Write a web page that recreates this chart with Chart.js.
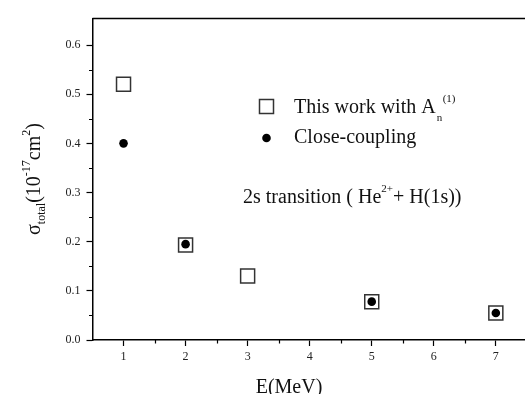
<!DOCTYPE html>
<html><head><meta charset="utf-8">
<script src="https://cdn.jsdelivr.net/npm/chart.js@4/dist/chart.umd.min.js"></script>
<style>html,body{margin:0;padding:0;background:#fff}#wrap{width:525px;height:394px}</style>
</head><body><div id="wrap"><canvas id="c" width="525" height="394"></canvas></div>
<script>
// ---- data ----
const energies = [1, 2, 3, 5, 7];
const thisWork = [0.52, 0.193, 0.13, 0.078, 0.055];
const ccEnergies = [1, 2, 5, 7];
const closeCoupling = [0.40, 0.195, 0.078, 0.055];
const xTickValues = [1, 2, 3, 4, 5, 6, 7];
const xMinorTicks = [1.5, 2.5, 3.5, 4.5, 5.5, 6.5];
const yTickValues = [0.0, 0.1, 0.2, 0.3, 0.4, 0.5, 0.6];
const yMinorTicks = [0.05, 0.15, 0.25, 0.35, 0.45, 0.55];
const xTitle = 'E(MeV)';
const legendLabels = ['This work with A', 'Close-coupling'];
const annotationText = '2s transition ( He';

const SERIF = '"Liberation Serif", "Times New Roman", serif';

const decor = {
  id: 'decor',
  afterDraw(chart) {
    const ctx = chart.ctx;
    const a = chart.chartArea;
    const xs = chart.scales.x, ys = chart.scales.y;
    ctx.save();
    // top frame line
    ctx.strokeStyle = '#000';
    ctx.lineWidth = 1.5;
    ctx.beginPath();
    ctx.moveTo(a.left, a.top);
    ctx.lineTo(chart.width, a.top);
    ctx.stroke();
    // minor ticks
    ctx.lineWidth = 1.2;
    ctx.beginPath();
    xMinorTicks.forEach(v => {
      const px = Math.round(xs.getPixelForValue(v)) + 0.5;
      ctx.moveTo(px, a.bottom);
      ctx.lineTo(px, a.bottom + 3.5);
    });
    yMinorTicks.forEach(v => {
      const py = Math.round(ys.getPixelForValue(v)) + 0.5;
      ctx.moveTo(a.left, py);
      ctx.lineTo(a.left - 3.5, py);
    });
    ctx.stroke();

    ctx.fillStyle = '#111';
    ctx.textBaseline = 'alphabetic';
    // x title
    ctx.font = '20px ' + SERIF;
    ctx.textAlign = 'center';
    ctx.fillText(xTitle, 289, 393);
    ctx.textAlign = 'left';

    // y title (rotated)
    ctx.save();
    ctx.translate(40, 179);
    ctx.rotate(-Math.PI / 2);
    const parts = [
      { t: '\u03C3', f: 20, dy: 0 },
      { t: 'total', f: 12, dy: 5 },
      { t: '(10', f: 20, dy: 0 },
      { t: '-17', f: 12, dy: -10 },
      { t: 'cm', f: 20, dy: 0 },
      { t: '2', f: 12, dy: -10 },
      { t: ')', f: 20, dy: 0 }
    ];
    let total = 0;
    parts.forEach(p => { ctx.font = p.f + 'px ' + SERIF; p.w = ctx.measureText(p.t).width; total += p.w; });
    let cx = -total / 2;
    parts.forEach(p => { ctx.font = p.f + 'px ' + SERIF; ctx.fillText(p.t, cx, p.dy); cx += p.w; });
    ctx.restore();

    // legend
    ctx.strokeStyle = '#333';
    ctx.lineWidth = 1.5;
    ctx.strokeRect(259.5, 99.5, 14, 14);
    ctx.fillStyle = '#000';
    ctx.beginPath();
    ctx.arc(266.5, 138, 4.3, 0, Math.PI * 2);
    ctx.fill();
    ctx.fillStyle = '#111';
    ctx.font = '20px ' + SERIF;
    ctx.fillText(legendLabels[0], 294, 113);
    let w1 = ctx.measureText(legendLabels[0]).width;
    ctx.font = '11px ' + SERIF;
    ctx.fillText('n', 294 + w1 + 1, 121);
    ctx.fillText('(1)', 294 + w1 + 7, 102);
    ctx.font = '20px ' + SERIF;
    ctx.fillText(legendLabels[1], 294, 143);

    // annotation
    ctx.fillText(annotationText, 243, 203);
    let w2 = ctx.measureText(annotationText).width;
    ctx.font = '11px ' + SERIF;
    ctx.fillText('2+', 243 + w2, 192);
    let w3 = ctx.measureText('2+').width;
    ctx.font = '20px ' + SERIF;
    ctx.fillText('+ H(1s))', 243 + w2 + w3, 203);
    ctx.restore();
  }
};

new Chart(document.getElementById('c'), {
  type: 'scatter',
  data: {
    datasets: [
      {
        label: 'Close-coupling',
        data: ccEnergies.map((e, i) => ({ x: e, y: closeCoupling[i] })),
        pointStyle: 'circle',
        pointRadius: 4.3,
        backgroundColor: '#000',
        borderColor: '#000',
        borderWidth: 0,
        order: 0
      },
      {
        label: 'This work',
        data: energies.map((e, i) => ({ x: e, y: thisWork[i] })),
        pointStyle: 'rect',
        pointRadius: 9.9,
        backgroundColor: 'rgba(255,255,255,0)',
        borderColor: '#333',
        borderWidth: 1.5,
        order: 1
      }
    ]
  },
  options: {
    responsive: false,
    animation: false,
    devicePixelRatio: 1,
    layout: { autoPadding: false, padding: { top: 18.5, right: 0, left: 0, bottom: 0 } },
    plugins: { legend: { display: false }, tooltip: { enabled: false } },
    scales: {
      x: {
        type: 'linear',
        min: 0.5,
        max: 7.47,
        afterBuildTicks: s => { s.ticks = xTickValues.map(v => ({ value: v })); },
        afterFit: s => { s.height = 54; s.paddingRight = 0; s.paddingLeft = 0; },
        grid: { drawOnChartArea: false, drawTicks: true, tickLength: 6, color: '#000', tickWidth: 1.2 },
        border: { display: true, color: '#000', width: 1.5 },
        ticks: { font: { family: SERIF, size: 12 }, color: '#222', padding: 4, maxRotation: 0, callback: v => String(v) }
      },
      y: {
        type: 'linear',
        min: 0,
        max: 0.654,
        afterBuildTicks: s => { s.ticks = yTickValues.map(v => ({ value: v })); },
        afterFit: s => { s.width = 92.5; s.paddingTop = 0; s.paddingBottom = 0; },
        grid: { drawOnChartArea: false, drawTicks: true, tickLength: 6, color: '#000', tickWidth: 1.2 },
        border: { display: true, color: '#000', width: 1.5 },
        ticks: { font: { family: SERIF, size: 12 }, color: '#222', padding: 6, callback: v => v.toFixed(1) }
      }
    }
  },
  plugins: [decor]
});
</script>
</body></html>
